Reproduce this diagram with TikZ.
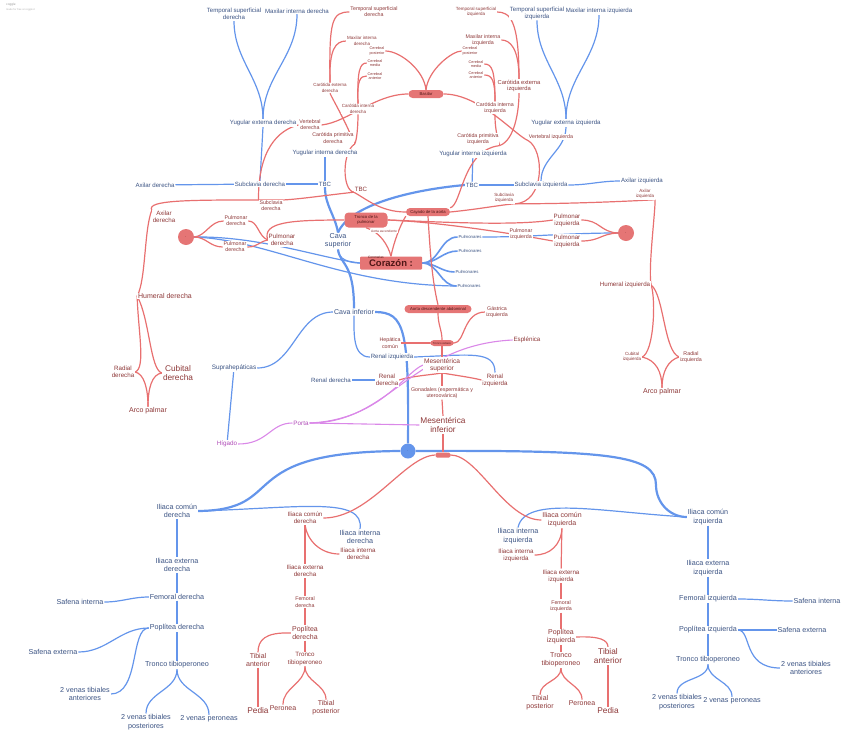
\documentclass[tikz,border=0pt]{standalone}
\usepackage{fontspec}
\setmainfont{Liberation Sans}
\usepackage{tikz}
\usetikzlibrary{positioning,backgrounds}

\definecolor{venaLine}{RGB}{100,149,235}
\definecolor{venaText}{RGB}{60,84,132}
\definecolor{artLine}{RGB}{232,112,112}
\definecolor{artText}{RGB}{142,56,56}
\definecolor{portaLine}{RGB}{218,136,232}
\definecolor{portaText}{RGB}{176,76,184}
\definecolor{cajaFill}{RGB}{229,117,117}
\definecolor{cajaText}{RGB}{78,22,22}

\tikzset{
  lbl/.style={fill=white, inner sep=0.8pt, align=center},
  vena/.style={lbl, text=venaText, font=\fontsize{6.1}{7.1}\selectfont},
  venaL/.style={lbl, text=venaText, font=\fontsize{7.2}{8.4}\selectfont},
  venaS/.style={lbl, text=venaText, font=\fontsize{4.3}{5}\selectfont},
  art/.style={lbl, text=artText, font=\fontsize{5.3}{6.2}\selectfont},
  artS/.style={lbl, text=artText, font=\fontsize{4.5}{5.3}\selectfont},
  artXS/.style={lbl, text=artText, font=\fontsize{3.8}{4.5}\selectfont},
  artM/.style={lbl, text=artText, font=\fontsize{6.2}{7.2}\selectfont},
  artL/.style={lbl, text=artText, font=\fontsize{7}{8.1}\selectfont},
  artXL/.style={lbl, text=artText, font=\fontsize{8.3}{9.6}\selectfont},
  porta/.style={lbl, text=portaText, font=\fontsize{6.3}{7.3}\selectfont},
  caja/.style={fill=cajaFill, text=cajaText, rounded corners=4pt, inner sep=1pt,
    align=center, font=\fontsize{4.2}{4.9}\selectfont},
  bola/.style={circle, inner sep=0pt, minimum size=16pt, text=cajaText,
    font=\fontsize{4}{4}\selectfont},
  vl/.style={draw=venaLine, line width=1.2pt},
  vlt/.style={draw=venaLine, line width=2.2pt},
  al/.style={draw=artLine, line width=1.2pt},
  pl/.style={draw=portaLine, line width=1.1pt}
}

\begin{document}
\begin{tikzpicture}[x=1pt,y=-1pt]
  \useasboundingbox (0,0) rectangle (848,739);
  % watermark
  \node[anchor=west, inner sep=0pt, text=black!40, font=\fontsize{3.2}{3.5}\selectfont] (marca) at (6,5) {coggle};
  \node[anchor=west, inner sep=0pt, text=black!30, font=\fontsize{2.6}{3}\selectfont] (marcab) at (6,10) {made for free at coggle.it};

  % Heart
  \node[caja, rounded corners=1pt, minimum width=62pt, minimum height=13pt,
    font=\bfseries\fontsize{9.5}{10}\selectfont] (corazon) at (391,263) {Corazón :};
  \node[text=cajaText, inner sep=0pt, font=\fontsize{3.2}{3.5}\selectfont] (coron) at (376,257) {Coronarias};

  % Veins: neck and arms, right side
  \node[vena] (tsd) at (234,14) {Temporal superficial\\derecha};
  \node[vena] (mid) at (297,11) {Maxilar interna derecha};
  \node[vena] (yed) at (263,123) {Yugular externa derecha};
  \node[vena] (yid) at (325,153) {Yugular interna derecha};
  \node[vena] (axd) at (155,185) {Axilar derecha};
  \node[vena] (sbd) at (260,184) {Subclavia derecha};
  \node[vena] (tbcd) at (325,184) {TBC};
  \node[venaL] (cs) at (338,241) {Cava\\superior};
  % Veins: neck and arms, left side
  \node[vena] (tsi) at (537,13) {Temporal superficial\\izquierda};
  \node[vena] (mii) at (599,11) {Maxilar interna izquierda};
  \node[vena] (yei) at (566,123) {Yugular externa izquierda};
  \node[vena] (yii) at (473,154) {Yugular interna izquierda};
  \node[vena] (tbci) at (472,185) {TBC};
  \node[vena] (sbi) at (541,185) {Subclavia izquierda};
  \node[vena] (axi) at (642,181) {Axilar izquierda};
  % Pulmonary veins
  \node[venaS] (pm1) at (470,237) {Pulmonares};
  \node[venaS] (pm2) at (470,251) {Pulmonares};
  \node[venaS] (pm3) at (467,272) {Pulmonares};
  \node[venaS] (pm4) at (469,286) {Pulmonares};
  \node[bola, fill=cajaFill] (lcirc) at (186,237) {.};
  \node[bola, fill=cajaFill] (rcirc) at (626,233) {.};
  % Veins: abdomen
  \node[venaL, font=\fontsize{7}{8}\selectfont] (ci) at (354,312) {Cava inferior};
  \node[vena] (rzi) at (392,357) {Renal izquierda};
  \node[vena] (rde) at (331,380) {Renal derecha};
  \node[vena, font=\fontsize{6.4}{7.4}\selectfont] (sph) at (234,368) {Suprahepáticas};
  \node[porta] (higado) at (227,444) {Hígado};
  \node[porta] (porta) at (301,423) {Porta};
  \node[bola, fill=venaLine, minimum size=15pt, text=venaText] (vcirc) at (408,451) {.};
  % Veins: right leg
  \node[venaL] (icd) at (177,511) {Iliaca común\\derecha};
  \node[venaL] (ied) at (177,565) {Iliaca externa\\derecha};
  \node[venaL] (fd) at (177,597) {Femoral derecha};
  \node[venaL] (sid) at (80,602) {Safena interna};
  \node[venaL] (pd) at (177,628) {Poplítea derecha};
  \node[venaL] (sed) at (53,652) {Safena externa};
  \node[venaL] (ttd) at (177,665) {Tronco tibioperoneo};
  \node[venaL] (vtad) at (85,694) {2 venas tibiales\\anteriores};
  \node[venaL] (vtpd) at (146,722) {2 venas tibiales\\posteriores};
  \node[venaL] (vpd) at (209,719) {2 venas peroneas};
  \node[venaL] (iid) at (360,537) {Iliaca interna\\derecha};
  % Veins: left leg
  \node[venaL] (ici) at (708,517) {Iliaca común\\izquierda};
  \node[venaL] (iei) at (708,568) {Iliaca externa\\izquierda};
  \node[venaL] (fi) at (708,599) {Femoral izquierda};
  \node[venaL] (sii) at (817,601) {Safena interna};
  \node[venaL] (pi) at (708,630) {Poplítea izquierda};
  \node[venaL] (sei) at (802,630) {Safena externa};
  \node[venaL] (tti) at (708,660) {Tronco tibioperoneo};
  \node[venaL] (vtai) at (806,668) {2 venas tibiales\\anteriores};
  \node[venaL] (vtpi) at (677,702) {2 venas tibiales\\posteriores};
  \node[venaL] (vpi) at (732,701) {2 venas peroneas};
  \node[venaL] (iii) at (518,536) {Iliaca interna\\izquierda};

  % Arteries: head
  \node[art] (atsd) at (374,12) {Temporal superficial\\derecha};
  \node[artS] (amid) at (362,41) {Maxilar interna\\derecha};
  \node[artXS] (cpd) at (377,51) {Cerebral\\posterior};
  \node[artXS] (cmd) at (375,63) {Cerebral\\media};
  \node[artXS] (cad) at (375,76) {Cerebral\\anterior};
  \node[artS] (ced) at (330,88) {Carótida externa\\derecha};
  \node[artS] (cid) at (358,109) {Carótida interna\\derecha};
  \node[art] (vd) at (310,125) {Vertebral\\derecha};
  \node[art] (cprd) at (333,138) {Carótida primitiva\\derecha};
  \node[caja, minimum width=35pt, minimum height=8pt] (basilar) at (426,94) {Basilar};
  \node[artS] (atsi) at (476,12) {Temporal superficial\\izquierda};
  \node[art] (amii) at (483,40) {Maxilar interna\\izquierda};
  \node[artXS] (cpi) at (470,51) {Cerebral\\posterior};
  \node[artXS] (cmi) at (476,64) {Cerebral\\media};
  \node[artXS] (cai) at (476,75) {Cerebral\\anterior};
  \node[art, font=\fontsize{5.8}{6.8}\selectfont] (cei) at (519,86) {Carótida externa\\izquierda};
  \node[art] (cii) at (495,108) {Carótida interna\\izquierda};
  \node[art] (cpri) at (478,139) {Carótida primitiva\\izquierda};
  \node[art] (vi) at (551,137) {Vertebral izquierda};
  % Arteries: arch, lungs and arms
  \node[caja, minimum width=44pt, minimum height=8pt] (cayado) at (428,212) {Cayado de la aorta};
  \node[caja, minimum width=43pt, minimum height=15pt] (tpul) at (366,220) {Tronco de la\\pulmonar};
  \node[artXS, font=\fontsize{3.3}{4}\selectfont] (aasc) at (384,231) {Aorta ascendente};
  \node[artM] (atbc) at (361,189) {TBC};
  \node[art] (asbd) at (271,206) {Subclavia\\derecha};
  \node[artM] (aaxd) at (164,217) {Axilar\\derecha};
  \node[art] (apd1) at (236,221) {Pulmonar\\derecha};
  \node[art] (apd2) at (235,247) {Pulmonar\\derecha};
  \node[artM] (apd) at (282,240) {Pulmonar\\derecha};
  \node[artL] (ahd) at (165,296) {Humeral derecha};
  \node[artM] (ard) at (123,372) {Radial\\derecha};
  \node[artXL] (acd) at (178,373) {Cubital\\derecha};
  \node[artL] (apald) at (148,411) {Arco palmar};
  \node[artS] (asbi) at (504,198) {Subclavia\\izquierda};
  \node[artS] (aaxi) at (645,194) {Axilar\\izquierda};
  \node[artM] (api1) at (567,220) {Pulmonar\\izquierda};
  \node[artM] (api2) at (567,241) {Pulmonar\\izquierda};
  \node[art] (api) at (521,234) {Pulmonar\\izquierda};
  \node[artM] (ahi) at (625,285) {Humeral izquierda};
  \node[artS] (aci) at (632,357) {Cubital\\izquierda};
  \node[art] (ari) at (691,357) {Radial\\izquierda};
  \node[artL] (apali) at (662,392) {Arco palmar};
  % Arteries: abdomen
  \node[caja, minimum width=67pt, minimum height=8pt] (adesc) at (438,309) {Aorta descendente abdominal};
  \node[art] (gastr) at (497,312) {Gástrica\\izquierda};
  \node[caja, minimum width=24pt, minimum height=6pt, font=\fontsize{2.8}{3}\selectfont] (tcel) at (442,343) {Tronco celiaco};
  \node[art] (hepc) at (390,343) {Hepática\\común};
  \node[artM] (esplen) at (527,340) {Esplénica};
  \node[artM, font=\fontsize{6.6}{7.4}\selectfont] (msup) at (442,365) {Mesentérica\\superior};
  \node[artM] (arde) at (387,380) {Renal\\derecha};
  \node[artM] (arzi) at (495,380) {Renal\\izquierda};
  \node[art] (gonad) at (442,393) {Gonadales (espermática y\\uteroovárica)};
  \node[artXL] (minf) at (443,425) {Mesentérica\\inferior};
  \node[caja, minimum width=15pt, minimum height=5pt, inner sep=0pt, rounded corners=1.5pt] (abar) at (443,455) {};
  % Arteries: right leg
  \node[artM] (aicd) at (305,518) {Iliaca común\\derecha};
  \node[artM] (aiid) at (358,554) {Iliaca interna\\derecha};
  \node[artM] (aied) at (305,571) {Iliaca externa\\derecha};
  \node[art] (afd) at (305,602) {Femoral\\derecha};
  \node[artL] (apopd) at (305,633) {Poplítea\\derecha};
  \node[artM] (attd) at (305,659) {Tronco\\tibioperoneo};
  \node[artL] (atad) at (258,660) {Tibial\\anterior};
  \node[artXL] (apedd) at (258,711) {Pedia};
  \node[artL] (aperd) at (283,708) {Peronea};
  \node[artL] (atpd) at (326,708) {Tibial\\posterior};
  % Arteries: left leg
  \node[artL] (aici) at (562,520) {Iliaca común\\izquierda};
  \node[artM] (aiii) at (516,555) {Iliaca interna\\izquierda};
  \node[artM] (aiei) at (561,576) {Iliaca externa\\izquierda};
  \node[art] (afi) at (561,606) {Femoral\\izquierda};
  \node[artL] (apopi) at (561,637) {Poplítea\\izquierda};
  \node[artL] (atti) at (561,660) {Tronco\\tibioperoneo};
  \node[artXL] (atai) at (608,656) {Tibial\\anterior};
  \node[artL] (atpi) at (540,703) {Tibial\\posterior};
  \node[artL] (aperi) at (582,703) {Peronea};
  \node[artXL] (apedi) at (608,711) {Pedia};

  \begin{scope}[on background layer]
    % veins of the neck
    \draw[vl] (tsd.south) to[out=-90,in=90] (yed.north);
    \draw[vl] (mid.south) to[out=-90,in=90] (yed.north);
    \draw[vl] (yed.south) -- (sbd.north);
    \draw[vl] (axd) -- (sbd);
    \draw[vl] (sbd) -- (tbcd);
    \draw[vl] (yid) -- (tbcd);
    \draw[vlt] (tbcd.south) to[out=-90,in=100] (cs.north);
    \draw[vlt] (tbci.west) .. controls (410,190) and (350,205) .. (cs.north);
    \draw[vl] (tsi.south) to[out=-90,in=90] (yei.north);
    \draw[vl] (mii.south) to[out=-90,in=90] (yei.north);
    \draw[vl] (yei.south) to[out=-90,in=90] (sbi.north);
    \draw[vl] (yii) -- (tbci);
    \draw[vl] (tbci) -- (sbi);
    \draw[vl] (sbi.east) to[out=0,in=180] (axi.west);
    % heart and lungs
    \draw[vlt] (cs.south) .. controls (340,265) and (354,262) .. (ci.north);
    \draw[vl] (cs.south) to[out=-90,in=180] (corazon.west);
    \foreach \p in {pm1,pm2,pm3,pm4}
      \draw[vl, line width=1.6pt] (corazon.east) to[out=0,in=180] (\p.west);
    \draw[vl] (pm1.east) to[out=0,in=180] (rcirc.west);
    \draw[vl] (lcirc.east) .. controls (260,236) and (320,258) .. (corazon.west);
    \draw[vl] (lcirc.east) .. controls (270,240) and (340,285) .. (pm4.west);
    % inferior vena cava
    \draw[vl] (ci.south) to[out=-90,in=180] (rzi.west);
    \draw[vl] (ci.west) to[out=180,in=0] (sph.east);
    \draw[vl] (sph) -- (higado);
    \draw[vlt] (ci.east) .. controls (405,312) and (409,330) .. (vcirc.north);
    \draw[vl] (rde) -- (arde);
    \draw[vl] (rzi.east) .. controls (470,355) and (495,350) .. (arzi.north);
    % iliac veins
    \draw[vlt] (vcirc.west) .. controls (230,452) and (290,510) .. (icd.east);
    \draw[vl] (icd.east) .. controls (300,508) and (365,496) .. (iid.north);
    \draw[vlt] (vcirc.east) .. controls (610,450) and (656,455) .. (656,485)
      to[out=-90,in=180] (ici.west);
    \draw[vl] (ici.west) .. controls (600,512) and (525,495) .. (iii.north);
    % leg veins
    \draw[vl] (icd) -- (ied);
    \draw[vl] (ied) -- (fd);
    \draw[vl] (fd) -- (pd);
    \draw[vl] (pd) -- (ttd);
    \draw[vl] (fd.west) to[out=180,in=0] (sid.east);
    \draw[vl] (pd.west) to[out=180,in=0] (sed.east);
    \draw[vl] (pd.west) .. controls (130,628) and (140,694) .. (vtad.east);
    \draw[vl] (ttd.south) to[out=-90,in=90] (vtpd.north);
    \draw[vl] (ttd.south) to[out=-90,in=90] (vpd.north);
    \draw[vl] (ici) -- (iei);
    \draw[vl] (iei) -- (fi);
    \draw[vl] (fi) -- (pi);
    \draw[vl] (pi) -- (tti);
    \draw[vl] (fi.east) to[out=0,in=180] (sii.west);
    \draw[vl] (pi.east) -- (sei.west);
    \draw[vl] (pi.east) .. controls (752,630) and (742,668) .. (vtai.west);
    \draw[vl] (tti.south) to[out=-90,in=90] (vtpi.north);
    \draw[vl] (tti.south) to[out=-90,in=90] (vpi.north);

    % head arteries
    \draw[al] (ced.north) .. controls (329,20) and (332,12) .. (atsd.west);
    \draw[al] (ced.north) .. controls (329,50) and (335,41) .. (amid.west);
    \draw[al] (cid.north) .. controls (357,70) and (360,63) .. (cmd.west);
    \draw[al] (cid.north) .. controls (357,80) and (360,76) .. (cad.west);
    \draw[al] (cpd.east) .. controls (400,51) and (424,70) .. (basilar.north);
    \draw[al] (cpi.west) .. controls (452,51) and (428,70) .. (basilar.north);
    \draw[al] (cprd.south east) .. controls (345,120) and (333,100) .. (ced.south);
    \draw[al] (cprd.south east) .. controls (357,140) and (358,125) .. (cid.south);
    \draw[al] (cei.north) .. controls (519,20) and (510,12) .. (atsi.east);
    \draw[al] (cei.north) .. controls (519,48) and (510,40) .. (amii.east);
    \draw[al] (cii.north) .. controls (495,70) and (492,64) .. (cmi.east);
    \draw[al] (cii.north) .. controls (495,80) and (492,75) .. (cai.east);
    \draw[al] (cpri.south east) .. controls (495,130) and (495,120) .. (cii.south);
    \draw[al] (cpri.south east) .. controls (515,140) and (519,110) .. (cei.south);
    % arch and its branches
    \draw[al] (cayado.west) .. controls (380,212) and (365,198) .. (atbc.south west);
    \draw[al] (atbc.south west) .. controls (342,190) and (342,152) .. (cprd.south east);
    \draw[al] (atbc.south west) .. controls (320,196) and (300,199) .. (asbd.north east);
    \draw[al] (asbd.north east) -- (asbd.north west)
      .. controls (190,200) and (146,200) .. (aaxd.north west);
    \draw[al] (aaxd.north west) .. controls (144,230) and (146,280) .. (ahd.west);
    \draw[al] (asbd.north west) .. controls (258,150) and (278,130) .. (vd.west);
    \draw[al] (vd.east) .. controls (348,122) and (375,94) .. (basilar.west);
    \draw[al] (cayado.north east) .. controls (462,205) and (462,150) .. (cpri.south east);
    \draw[al] (cayado.east) .. controls (480,209) and (500,205) .. (asbi.south east);
    \draw[al] (asbi.south east) .. controls (580,204) and (650,200) .. (aaxi.south east);
    \draw[al] (asbi.south east) .. controls (545,203) and (545,150) .. (vi.south west);
    \draw[al] (vi.south west) .. controls (515,135) and (480,94) .. (basilar.east);
    \draw[al] (aaxi.south east) .. controls (655,215) and (648,270) .. (ahi.east);
    % arms
    \draw[al] (ahd.west) .. controls (138,330) and (146,368) .. (ard.east);
    \draw[al] (ahd.west) .. controls (150,320) and (150,370) .. (acd.west);
    \draw[al] (apald.north) .. controls (148,388) and (144,374) .. (ard.east);
    \draw[al] (apald.north) .. controls (148,388) and (152,374) .. (acd.west);
    \draw[al] (ahi.east) .. controls (656,300) and (654,352) .. (aci.east);
    \draw[al] (ahi.east) .. controls (664,295) and (664,352) .. (ari.west);
    \draw[al] (apali.north) .. controls (662,372) and (656,360) .. (aci.east);
    \draw[al] (apali.north) .. controls (662,372) and (668,360) .. (ari.west);
    % pulmonary arteries
    \draw[al] (corazon.north) .. controls (393,245) and (400,225) .. (cayado.south west);
    \draw[al] (corazon.north) .. controls (388,245) and (380,232) .. (tpul.south);
    \draw[al] (tpul.west) .. controls (290,220) and (262,222) .. (apd.west);
    \draw[al] (apd.west) .. controls (258,236) and (258,221) .. (apd1.east);
    \draw[al] (apd.west) .. controls (258,242) and (258,247) .. (apd2.east);
    \draw[al] (apd1.west) .. controls (210,221) and (206,236) .. (lcirc.east);
    \draw[al] (apd2.west) .. controls (210,247) and (206,237) .. (lcirc.east);
    \draw[al] (tpul.east) .. controls (440,222) and (515,226) .. (api1.west);
    \draw[al] (tpul.east) .. controls (440,222) and (515,234) .. (api2.west);
    \draw[al] (api1.east) .. controls (600,220) and (600,232) .. (rcirc.west);
    \draw[al] (api2.east) .. controls (600,241) and (600,234) .. (rcirc.west);
    % abdominal aorta
    \draw[al] (cayado.south) .. controls (430,250) and (432,280) .. (adesc.north);
    \draw[al] (adesc.south) .. controls (438,325) and (442,330) .. (tcel.north);
    \draw[al] (tcel.east) .. controls (465,343) and (463,312) .. (gastr.west);
    \draw[al] (tcel.west) -- (hepc.east);
    \draw[al] (tcel.south) -- (msup.north);
    \draw[al] (msup.south) .. controls (440,374) and (410,376) .. (arde.east);
    \draw[al] (msup.south) .. controls (446,374) and (470,377) .. (arzi.west);
    \draw[al] (msup.south) -- (gonad.north);
    \draw[al] (gonad.south) -- (minf.north);
    \draw[al] (minf.south) -- (abar.north);
    % leg arteries
    \draw[al] (abar.west) .. controls (405,456) and (370,518) .. (aicd.east);
    \draw[al] (abar.east) .. controls (478,455) and (505,520) .. (aici.west);
    \draw[al] (aicd.south) .. controls (307,540) and (320,554) .. (aiid.west);
    \draw[al] (aicd) -- (aied);
    \draw[al] (aied) -- (afd);
    \draw[al] (afd) -- (apopd);
    \draw[al] (apopd) -- (attd);
    \draw[al] (apopd.west) .. controls (265,632) and (258,640) .. (atad.north);
    \draw[al] (atad) -- (apedd);
    \draw[al] (attd.south) to[out=-90,in=90] (aperd.north);
    \draw[al] (attd.south) to[out=-90,in=90] (atpd.north);
    \draw[al] (aici.south) .. controls (561,545) and (550,555) .. (aiii.east);
    \draw[al] (aici) -- (aiei);
    \draw[al] (aiei) -- (afi);
    \draw[al] (afi) -- (apopi);
    \draw[al] (apopi) -- (atti);
    \draw[al] (apopi.east) .. controls (600,636) and (608,640) .. (atai.north);
    \draw[al] (atai) -- (apedi);
    \draw[al] (atti.south) to[out=-90,in=90] (atpi.north);
    \draw[al] (atti.south) to[out=-90,in=90] (aperi.north);

    % portal system
    \draw[pl] (higado.east) .. controls (268,444) and (270,423) .. (porta.west);
    \draw[pl] (porta.east) .. controls (390,423) and (410,345) .. (esplen.west);
    \draw[pl] (porta.east) .. controls (380,420) and (405,372) .. (msup.west);
    \draw[pl] (porta.east) -- (minf.west);
  \end{scope}
\end{tikzpicture}
\end{document}
